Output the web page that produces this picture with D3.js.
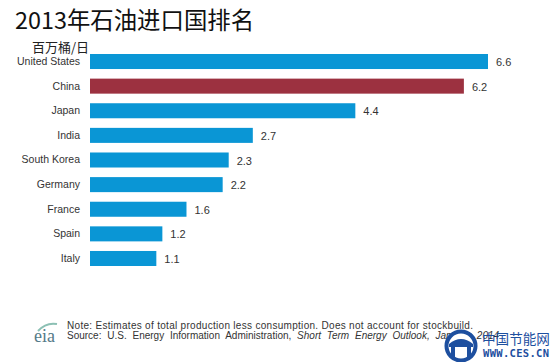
<!DOCTYPE html>
<html>
<head>
<meta charset="utf-8">
<script src="https://cdn.jsdelivr.net/npm/d3@7"></script>
<style>
  body { margin: 0; background: #fff; }
  text { font-family: Arial, "Liberation Sans", sans-serif; }
</style>
</head>
<body>
<script>
var countries = ["United States", "China", "Japan", "India", "South Korea", "Germany", "France", "Spain", "Italy"]
var imports = [6.6, 6.2, 4.4, 2.7, 2.3, 2.2, 1.6, 1.2, 1.1]
var highlight = "China"

const width = 550
const height = 362

var svg = d3.select("body").append("svg").attr("width", width).attr("height", height)

// title + unit
svg.append("text").attr("x", 15).attr("y", 29).text("2013年石油进口国排名")
    .style("font-family", "'Noto Sans CJK SC', sans-serif").attr("font-size", 23.4).attr("fill", "#111")
svg.append("text").attr("x", 32).attr("y", 52).text("百万桶/日")
    .style("font-family", "'Noto Sans CJK SC', sans-serif").attr("font-size", 13).attr("fill", "#222")

var xScale = d3.scaleLinear().domain([0, 6.6]).range([90, 488])
var yScale = d3.scaleBand().domain(countries).range([44.4, 275.6]).padding(0.39)

svg.selectAll("rect.bar").data(imports).enter().append("rect")
    .attr("class", "bar")
    .attr("x", xScale(0))
    .attr("y", (d, i) => yScale(countries[i]))
    .attr("width", (d) => xScale(d) - xScale(0))
    .attr("height", yScale.bandwidth())
    .attr("fill", (d, i) => countries[i] == highlight ? "#9c3140" : "#0a96d5")

// country labels
svg.append("g").attr("transform", "translate(" + (xScale(0) - 10) + ",0)")
    .call(d3.axisLeft(yScale).tickSize(0).tickPadding(0))
    .call(g => g.select(".domain").remove())
    .selectAll("text").attr("font-size", 10.5).attr("fill", "#333")
    .style("font-family", "Arial, 'Liberation Sans', sans-serif")

// value labels
svg.selectAll("text.val").data(imports).enter().append("text")
    .attr("class", "val")
    .attr("x", (d) => xScale(d) + 8)
    .attr("y", (d, i) => yScale(countries[i]) + yScale.bandwidth() / 2 + 4.5)
    .attr("font-size", 11).attr("fill", "#333")
    .text((d) => d.toFixed(1))

// eia logo
svg.append("path").attr("d", "M38,331 Q46,322 57,324").attr("fill", "none")
    .attr("stroke", "#8cc0b4").attr("stroke-width", 2)
svg.append("text").attr("x", 34).attr("y", 342).text("eia")
    .style("font-family", "'Liberation Serif', serif").attr("font-size", 18).attr("fill", "#557a88")

// footnote
svg.append("text").attr("x", 67).attr("y", 329).attr("font-size", 10).attr("fill", "#333")
    .attr("textLength", 406)
    .text("Note: Estimates of total production less consumption. Does not account for stockbuild.")
var src = svg.append("text").attr("x", 67).attr("y", 339).attr("font-size", 10).attr("fill", "#333")
    .attr("word-spacing", 3)
src.append("tspan").text("Source: U.S. Energy Information  Administration, ")
src.append("tspan").attr("font-style", "italic").text("Short Term Energy Outlook, January 2014")

// watermark
var wm = svg.append("g")
wm.append("circle").attr("cx", 461).attr("cy", 346).attr("r", 14.5).attr("fill", "#fff")
    .attr("stroke", "#1d4f9f").attr("stroke-width", 4)
wm.append("path").attr("d", "M449,344 Q461,334 473,344 L473,347 L449,347 Z").attr("fill", "#1d4f9f")
wm.append("rect").attr("x", 451).attr("y", 347).attr("width", 4).attr("height", 12).attr("fill", "#1d4f9f")
wm.append("rect").attr("x", 467).attr("y", 347).attr("width", 4).attr("height", 12).attr("fill", "#1d4f9f")
wm.append("text").attr("x", 482).attr("y", 344).text("中国节能网")
    .style("font-family", "'Noto Sans CJK SC', sans-serif").attr("font-size", 13.6).attr("fill", "#1d4f9f")
wm.append("text").attr("x", 483).attr("y", 357).text("WWW.CES.CN")
    .style("font-family", "'DejaVu Sans Mono', monospace").attr("font-size", 10.5).attr("font-weight", "bold")
    .attr("textLength", 66).attr("fill", "#1d4f9f")
</script>
</body>
</html>
